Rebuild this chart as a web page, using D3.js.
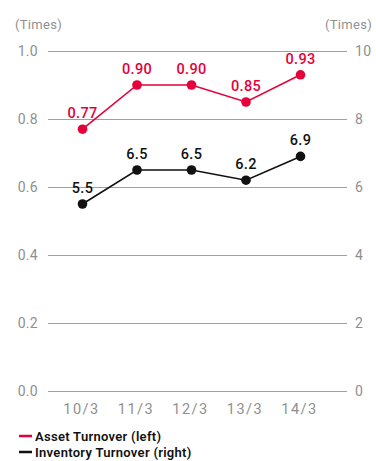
<!DOCTYPE html>
<html>
<head>
<meta charset="utf-8">
<script src="https://cdn.jsdelivr.net/npm/d3@7"></script>
<style>
  html, body { margin: 0; padding: 0; background: #fff; }
  svg { display: block; font-family: Roboto, "Noto Sans", sans-serif; }
</style>
</head>
<body>
<svg id="chart" width="376" height="461"></svg>
<script>
// Fiscal years (ending March)
const categories = ["10/3", "11/3", "12/3", "13/3", "14/3"];
// Asset turnover, left axis (times)
const assetTurnover = [0.77, 0.90, 0.90, 0.85, 0.93];
const assetLabels = ["0.77", "0.90", "0.90", "0.85", "0.93"];
// Inventory turnover, right axis (times)
const inventoryTurnover = [5.5, 6.5, 6.5, 6.2, 6.9];
const inventoryLabels = ["5.5", "6.5", "6.5", "6.2", "6.9"];
// Axis ticks
const leftTicks = [0, 0.2, 0.4, 0.6, 0.8, 1.0];
const rightTicks = [0, 2, 4, 6, 8, 10];

const RED = "#e5003a";
const BLACK = "#111";
const GREY = "#8f8f8f";
const GRID = "#a0a0a0";

const svg = d3.select("#chart");
const plot = { left: 48, right: 347, top: 51, bottom: 391 };

const x = d3.scalePoint().domain(categories).range([82.5, 300.5]);
const yL = d3.scaleLinear().domain([0, 1]).range([plot.bottom, plot.top]);
const yR = d3.scaleLinear().domain([0, 10]).range([plot.bottom, plot.top]);

// Gridlines
svg.append("g").selectAll("line").data(leftTicks).join("line")
  .attr("x1", plot.left).attr("x2", plot.right)
  .attr("y1", d => yL(d) + 0.5).attr("y2", d => yL(d) + 0.5)
  .attr("stroke", GRID).attr("stroke-width", 1);

// Left axis labels
svg.append("g").selectAll("text").data(leftTicks).join("text")
  .attr("x", 38).attr("y", d => yL(d)).attr("dy", "0.36em")
  .attr("text-anchor", "end").attr("fill", GREY).attr("font-size", 14)
  .attr("letter-spacing", "0.3px")
  .text(d => d3.format(".1f")(d));

// Right axis labels
svg.append("g").selectAll("text").data(rightTicks).join("text")
  .attr("x", 355).attr("y", d => yR(d)).attr("dy", "0.36em")
  .attr("text-anchor", "start").attr("fill", GREY).attr("font-size", 14)
  .attr("letter-spacing", "0.3px")
  .text(d => d);

// Unit labels
svg.append("text").attr("x", 15).attr("y", 29).attr("fill", GREY)
  .attr("font-size", 13).attr("letter-spacing", "0.3px").text("(Times)");
svg.append("text").attr("x", 372).attr("y", 29).attr("fill", GREY)
  .attr("text-anchor", "end").attr("font-size", 13)
  .attr("letter-spacing", "0.3px").text("(Times)");

// Category labels
svg.append("g").selectAll("text").data(categories).join("text")
  .attr("x", d => x(d) - 1).attr("y", 414)
  .attr("text-anchor", "middle").attr("fill", GREY).attr("font-size", 14.5)
  .attr("letter-spacing", "1.5px")
  .text(d => d);

function series(values, labels, yScale, color) {
  const pts = values.map((v, i) => [x(categories[i]), yScale(v)]);
  const g = svg.append("g");
  g.append("path").attr("d", d3.line()(pts))
    .attr("fill", "none").attr("stroke", color).attr("stroke-width", 1.6);
  g.selectAll("circle").data(pts).join("circle")
    .attr("cx", d => d[0]).attr("cy", d => d[1]).attr("r", 4.8)
    .attr("fill", color);
  g.selectAll("text").data(pts).join("text")
    .attr("x", d => d[0]).attr("y", d => d[1] - 11)
    .attr("text-anchor", "middle").attr("fill", color)
    .attr("font-size", 14.5).attr("font-weight", 500)
    .attr("letter-spacing", "0.3px")
    .text((d, i) => labels[i]);
}

series(assetTurnover, assetLabels, yL, RED);
series(inventoryTurnover, inventoryLabels, yR, BLACK);

// Legend
const legend = [
  { name: "Asset Turnover (left)", color: RED, y: 436 },
  { name: "Inventory Turnover (right)", color: BLACK, y: 452 }
];
const lg = svg.append("g").selectAll("g").data(legend).join("g");
lg.append("line")
  .attr("x1", 19).attr("x2", 32)
  .attr("y1", d => d.y).attr("y2", d => d.y)
  .attr("stroke", d => d.color).attr("stroke-width", 2.5);
lg.append("text")
  .attr("x", 35).attr("y", d => d.y).attr("dy", "0.36em")
  .attr("fill", "#111").attr("font-size", 13).attr("font-weight", 600)
  .attr("letter-spacing", "0.3px")
  .text(d => d.name);
</script>
</body>
</html>
